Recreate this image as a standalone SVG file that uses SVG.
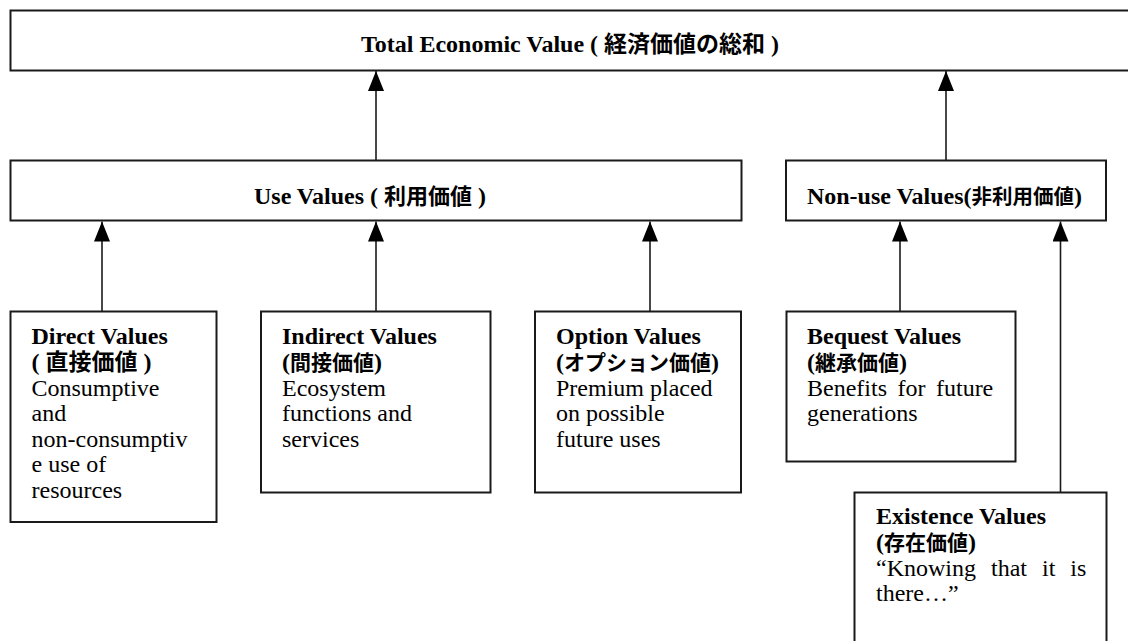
<svg xmlns="http://www.w3.org/2000/svg" width="1128" height="641" viewBox="0 0 1128 641">
<style>
.box{fill:#fff;stroke:#1a1a1a;stroke-width:2}
.con{fill:none;stroke:#1a1a1a;stroke-width:1.6}
.b{font-family:"Liberation Serif","Noto Sans CJK JP",serif;font-weight:bold;font-size:24px;fill:#000}
.r{font-family:"Liberation Serif","Noto Sans CJK JP",serif;font-size:24px;fill:#000}
.j{font-family:"Noto Sans CJK JP",sans-serif;font-weight:bold}
</style>
<defs>
<marker id="arr" viewBox="0 0 20 16" refX="20" refY="8" markerWidth="20" markerHeight="16" markerUnits="userSpaceOnUse" orient="auto">
<path d="M0,0 L20,8 L0,16 Z" fill="#000"/>
</marker>
</defs>
<rect width="1128" height="641" fill="#fff"/>

<g id="connectors">
<line class="con" x1="376" y1="160.5" x2="376" y2="71" marker-end="url(#arr)"/>
<line class="con" x1="946" y1="160.5" x2="946" y2="71" marker-end="url(#arr)"/>
<line class="con" x1="102" y1="311.5" x2="102" y2="221.5" marker-end="url(#arr)"/>
<line class="con" x1="376" y1="311.5" x2="376" y2="221.5" marker-end="url(#arr)"/>
<line class="con" x1="650" y1="311.5" x2="650" y2="221.5" marker-end="url(#arr)"/>
<line class="con" x1="900" y1="311.5" x2="900" y2="221.5" marker-end="url(#arr)"/>
<line class="con" x1="1060.5" y1="492.5" x2="1060.5" y2="221.5" marker-end="url(#arr)"/>
</g>

<g id="total">
<rect class="box" x="10.5" y="10.5" width="1130" height="60"/>
<text class="b" x="570" y="52" text-anchor="middle">Total Economic Value ( <tspan class="j" font-size="23">経済価値の総和</tspan> )</text>
</g>

<g id="use">
<rect class="box" x="10.5" y="160.5" width="731" height="60"/>
<text class="b" x="370" y="204" text-anchor="middle">Use Values ( <tspan class="j" font-size="22">利用価値</tspan> )</text>
</g>

<g id="nonuse">
<rect class="box" x="786" y="160.5" width="320" height="60"/>
<text class="b" x="944.5" y="204" text-anchor="middle">Non-use Values(<tspan class="j" font-size="20.5">非利用価値</tspan>)</text>
</g>

<g id="direct">
<rect class="box" x="10.5" y="311.5" width="206" height="210.5"/>
<text class="b" x="31.5" y="344">Direct Values</text>
<text class="b" x="31.5" y="370">( <tspan class="j" font-size="23">直接価値</tspan> )</text>
<text class="r" x="31.5" y="396">Consumptive</text>
<text class="r" x="31.5" y="421">and</text>
<text class="r" x="31.5" y="447">non-consumptiv</text>
<text class="r" x="31.5" y="472">e use of</text>
<text class="r" x="31.5" y="498">resources</text>
</g>

<g id="indirect">
<rect class="box" x="261" y="311.5" width="229.5" height="181"/>
<text class="b" x="282" y="344">Indirect Values</text>
<text class="b" x="282" y="370">(<tspan class="j" font-size="21">間接価値</tspan>)</text>
<text class="r" x="282" y="396">Ecosystem</text>
<text class="r" x="282" y="421">functions and</text>
<text class="r" x="282" y="447">services</text>
</g>

<g id="option">
<rect class="box" x="535" y="311.5" width="206" height="181"/>
<text class="b" x="556" y="344">Option Values</text>
<text class="b" x="556" y="370">(<tspan class="j" font-size="21">オプション価値</tspan>)</text>
<text class="r" x="556" y="396">Premium placed</text>
<text class="r" x="556" y="421">on possible</text>
<text class="r" x="556" y="447">future uses</text>
</g>

<g id="bequest">
<rect class="box" x="786.5" y="311.5" width="229" height="150"/>
<text class="b" x="807" y="344">Bequest Values</text>
<text class="b" x="807" y="370">(<tspan class="j" font-size="21">継承価値</tspan>)</text>
<text class="r" x="807" y="396" word-spacing="4.5">Benefits for future</text>
<text class="r" x="807" y="421">generations</text>
</g>

<g id="existence">
<rect class="box" x="854.5" y="492.5" width="252" height="170"/>
<text class="b" x="876" y="524">Existence Values</text>
<text class="b" x="876" y="550">(<tspan class="j" font-size="21">存在価値</tspan>)</text>
<text class="r" x="876" y="576" word-spacing="9">“Knowing that it is</text>
<text class="r" x="876" y="601">there…”</text>
</g>
</svg>
